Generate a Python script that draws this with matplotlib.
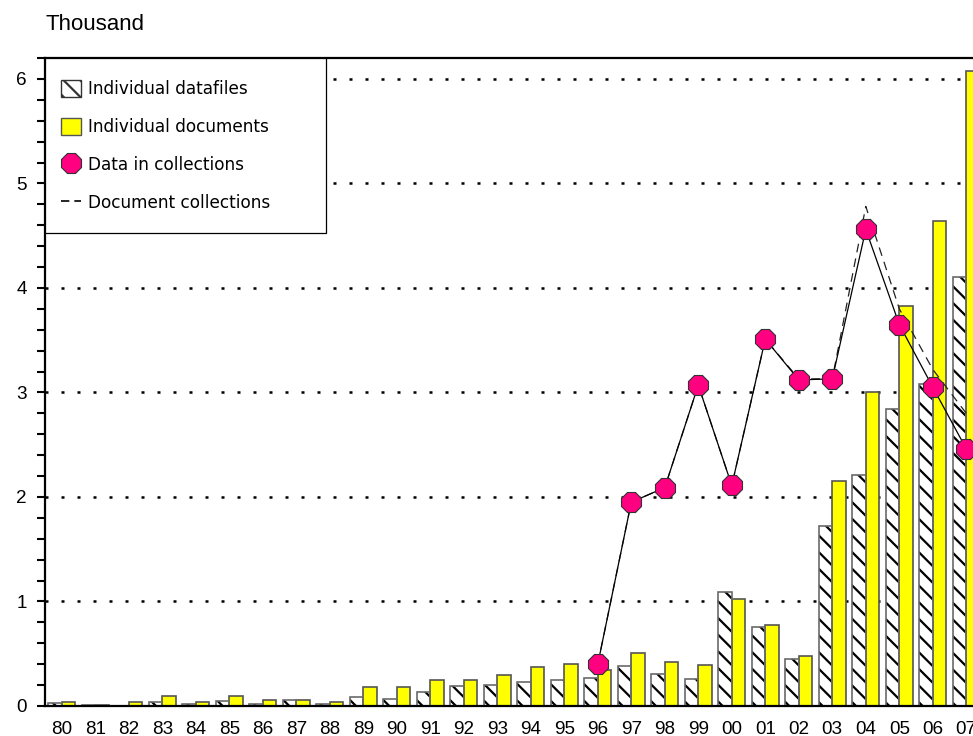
import matplotlib
matplotlib.use('Agg')
import matplotlib.pyplot as plt
import matplotlib.patches as mpatches
import matplotlib.lines as mlines
from matplotlib.ticker import MultipleLocator
import numpy as np

# values in thousands
years = ['80', '81', '82', '83', '84', '85', '86', '87', '88', '89',
         '90', '91', '92', '93', '94', '95', '96', '97', '98', '99',
         '00', '01', '02', '03', '04', '05', '06', '07']
datafiles = [0.03, 0.005, 0.003, 0.04, 0.015, 0.05, 0.015, 0.06, 0.02, 0.086,
             0.07, 0.13, 0.19, 0.20, 0.23, 0.246, 0.27, 0.38, 0.31, 0.26,
             1.09, 0.756, 0.45, 1.72, 2.21, 2.84, 3.08, 4.10]
documents = [0.04, 0.01, 0.035, 0.095, 0.04, 0.10, 0.055, 0.06, 0.035, 0.18,
             0.18, 0.25, 0.25, 0.30, 0.376, 0.40, 0.345, 0.507, 0.42, 0.39,
             1.02, 0.775, 0.48, 2.15, 3.0, 3.83, 4.64, 6.08]
coll_years = ['96', '97', '98', '99', '00', '01', '02', '03', '04', '05', '06', '07']
data_coll = [0.40, 1.95, 2.09, 3.07, 2.11, 3.51, 3.12, 3.13, 4.56, 3.65, 3.05, 2.46]
doc_coll = [0.40, 1.95, 2.09, 3.07, 2.11, 3.51, 3.13, 3.13, 4.78, 3.80, 3.22, 2.80]

plt.rcParams['hatch.linewidth'] = 1.6
plt.rcParams['font.family'] = 'Liberation Sans'

W, H = 973, 736
fig = plt.figure(figsize=(W / 100, H / 100), dpi=100)
ax = fig.add_axes([45 / W, 30 / H, 928 / W, 648 / H])

x = np.arange(len(years))
xc = np.array([years.index(y) for y in coll_years])
w = 0.4

# hatched bars: hatch in black, then a gray outline on top
ax.bar(x - w / 2, datafiles, w, color='white', edgecolor='black', hatch='\\\\', lw=0, zorder=2)
ax.bar(x - w / 2, datafiles, w, fill=False, edgecolor='#6a6a6a', lw=1.2, zorder=2.1)
ax.bar(x + w / 2, documents, w, color='#ffff00', edgecolor='#555555', lw=1.2, zorder=2)

ax.plot(xc, doc_coll, color='#222222', lw=0.9, ls=(0, (7, 5)), zorder=3)
ax.plot(xc, data_coll, color='black', lw=0.9, marker='8', ms=15.5,
        mfc='#ff0080', mec='#333333', mew=0.8, zorder=4)

ax.set_xlim(-0.5, 27.2)
ax.set_ylim(0, 6.2)
ax.set_xticks(x)
ax.set_xticklabels(years)
ax.set_yticks(range(7))
ax.yaxis.set_minor_locator(MultipleLocator(0.2))
ax.tick_params(axis='x', length=0, pad=10.5, labelsize=13.6)
ax.tick_params(axis='y', which='both', direction='out', length=6, width=1.5, pad=7, labelsize=13.6)

ax.spines['right'].set_visible(False)
for s in ['left', 'top', 'bottom']:
    ax.spines[s].set_linewidth(1.6)

ax.set_axisbelow(True)
ax.grid(axis='y', which='major', color='black', lw=1.8, ls=(0, (1.2, 5.2)))

# legend box
box = mpatches.Rectangle((0, (706 - 233) / 648), (326 - 45) / 928, (233 - 58) / 648,
                         transform=ax.transAxes, facecolor='white', edgecolor='black',
                         lw=0.9, zorder=5)
ax.add_patch(box)

h1 = mpatches.Patch(facecolor='white', edgecolor='#333333', hatch='\\\\', lw=1)
h2 = mpatches.Patch(facecolor='#ffff00', edgecolor='#555555', lw=1)
h3 = mlines.Line2D([], [], ls='none', marker='8', ms=15.5, mfc='#ff0080', mec='#333333', mew=0.8)
h4 = mlines.Line2D([], [], color='black', lw=1.2, ls=(0, (5, 3)))
leg = ax.legend([h1, h2, h3, h4],
                ['Individual datafiles', 'Individual documents',
                 'Data in collections', 'Document collections'],
                loc='upper left', bbox_to_anchor=(61 / W, 1 - 80 / H),
                bbox_transform=fig.transFigure, frameon=False, borderpad=0,
                borderaxespad=0, handlelength=1.2, handleheight=1.2,
                handletextpad=0.4, labelspacing=1.15,
                prop={'family': 'DejaVu Sans', 'size': 12.2})
leg.set_zorder(6)

fig.text(45 / W, 1 - 25 / H, 'Thousand', va='center', ha='left', fontsize=16)

plt.savefig('out.png', dpi=100)
